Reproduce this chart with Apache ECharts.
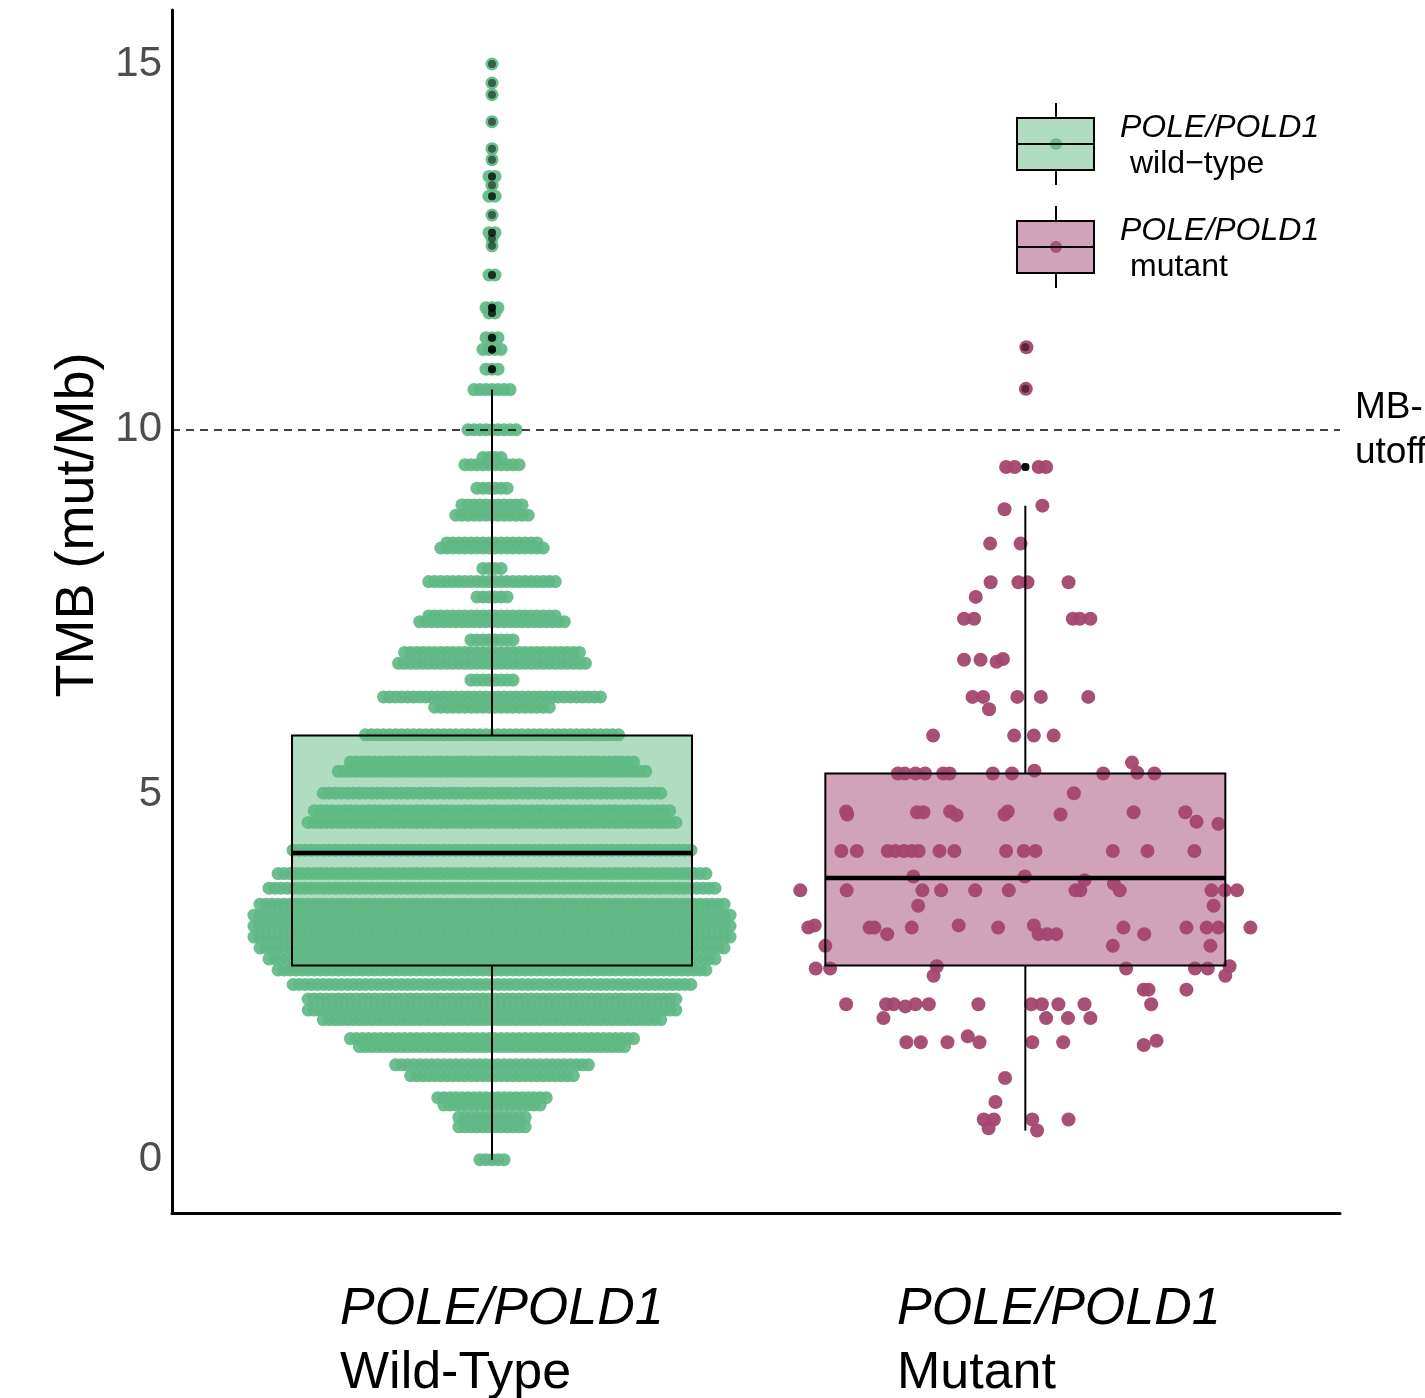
<!DOCTYPE html>
<html>
<head>
<meta charset="UTF-8">
<title>TMB by POLE/POLD1 status</title>
<style>
  html, body { margin: 0; padding: 0; background: #fff; }
  #chart { width: 1425px; height: 1398px; }
</style>
</head>
<body>
<div id="chart"></div>
<script src="https://cdn.jsdelivr.net/npm/echarts@6/dist/echarts.min.js"></script>
<script>
// --- data ---
const categories = ['Wild-Type', 'Mutant'];
const yTicks = [0, 5, 10, 15];
const cutoff = 10;

// [lower whisker, Q1, median, Q3, upper whisker]
const wtBox = [0, 2.66, 4.2, 5.81, 10.55];
const mutBox = [0.40, 2.66, 3.86, 5.29, 8.96];

// wild-type beeswarm: [TMB value, number of samples in that row]
const wtRows = [
  [15.01, 1], [14.75, 1], [14.59, 1], [14.22, 1], [13.85, 1], [13.7, 1],
  [13.47, 2], [13.35, 1], [13.2, 2], [12.94, 1], [12.7, 2], [12.62, 1],
  [12.52, 1], [12.12, 2], [11.67, 3], [11.6, 2], [11.26, 3], [11.1, 4],
  [10.83, 3], [10.55, 7], [10.0, 9], [9.62, 4], [9.52, 10], [9.2, 6],
  [8.97, 11], [8.83, 13], [8.45, 16], [8.38, 18], [8.1, 4], [7.92, 22],
  [7.71, 6], [7.45, 22], [7.37, 25], [7.12, 8], [6.95, 30], [6.8, 32],
  [6.57, 8], [6.34, 37], [6.2, 20], [5.82, 43], [5.45, 48], [5.32, 52],
  [5.02, 57], [4.78, 60], [4.62, 62], [4.24, 67], [3.92, 72], [3.72, 75],
  [3.5, 78], [3.35, 80], [3.2, 80], [3.05, 80], [2.9, 78], [2.75, 75],
  [2.6, 72], [2.4, 67], [2.2, 62], [2.05, 62], [1.92, 57], [1.66, 48],
  [1.55, 45], [1.3, 33], [1.15, 28], [0.85, 19], [0.75, 17], [0.58, 12],
  [0.45, 12], [0.0, 5]
];

// mutant jittered points: [horizontal jitter, TMB value]
const mutPoints = [
  [0.002, 11.13], [0.001, 10.56],
  [-0.036, 9.49], [-0.020, 9.49], [0.025, 9.49], [0.039, 9.49],
  [-0.039, 8.91], [0.032, 8.96], [-0.066, 8.44], [-0.009, 8.44],
  [-0.065, 7.91], [-0.013, 7.91], [0.004, 7.91], [0.081, 7.91], [-0.093, 7.71],
  [-0.115, 7.41], [-0.096, 7.41], [0.089, 7.41], [0.102, 7.41], [0.122, 7.41],
  [-0.115, 6.85], [-0.084, 6.85], [-0.054, 6.82], [-0.042, 6.86],
  [-0.099, 6.34], [-0.079, 6.34], [-0.015, 6.34], [0.029, 6.34], [0.118, 6.34], [-0.068, 6.17],
  [-0.173, 5.81], [-0.021, 5.81], [0.016, 5.81], [0.053, 5.81],
  [-0.239, 5.29], [-0.226, 5.29], [-0.206, 5.29], [-0.188, 5.29], [-0.154, 5.29], [-0.142, 5.29],
  [-0.061, 5.29], [-0.025, 5.29], [0.017, 5.33], [0.146, 5.29], [0.200, 5.44], [0.210, 5.30], [0.242, 5.29],
  [0.091, 5.02],
  [-0.336, 4.77], [-0.334, 4.73], [-0.203, 4.76], [-0.191, 4.76], [-0.141, 4.77], [-0.129, 4.72],
  [-0.039, 4.73], [-0.033, 4.77], [0.066, 4.73], [0.203, 4.76], [0.300, 4.76], [0.321, 4.63], [0.362, 4.60],
  [-0.345, 4.23], [-0.316, 4.23], [-0.258, 4.23], [-0.244, 4.23], [-0.228, 4.23], [-0.213, 4.23],
  [-0.200, 4.23], [-0.161, 4.23], [-0.133, 4.23], [-0.036, 4.23], [-0.003, 4.23], [0.019, 4.23],
  [0.164, 4.23], [0.229, 4.23], [0.317, 4.23],
  [-0.210, 3.88], [-0.001, 3.88], [0.111, 3.83],
  [-0.422, 3.69], [-0.335, 3.69], [-0.193, 3.69], [-0.158, 3.69], [-0.094, 3.69], [-0.031, 3.69],
  [0.094, 3.69], [0.103, 3.69], [0.166, 3.78], [0.177, 3.69], [0.349, 3.69], [0.374, 3.69], [0.397, 3.69],
  [-0.201, 3.48], [0.353, 3.48],
  [-0.407, 3.18], [-0.395, 3.21], [-0.292, 3.18], [-0.283, 3.18], [-0.259, 3.09], [-0.213, 3.18],
  [-0.125, 3.21], [-0.051, 3.18], [0.016, 3.21], [0.025, 3.09], [0.041, 3.09], [0.058, 3.09],
  [0.184, 3.18], [0.223, 3.09], [0.302, 3.18], [0.340, 3.18], [0.362, 3.18], [0.422, 3.18],
  [-0.375, 2.93], [0.164, 2.93], [0.347, 2.93],
  [-0.393, 2.62], [-0.366, 2.62], [-0.166, 2.65], [-0.172, 2.52], [0.189, 2.62], [0.318, 2.62],
  [0.342, 2.62], [0.383, 2.65], [0.375, 2.52],
  [0.222, 2.33], [0.231, 2.33], [0.302, 2.33],
  [-0.336, 2.13], [-0.261, 2.13], [-0.247, 2.13], [-0.225, 2.10], [-0.206, 2.13], [-0.181, 2.13],
  [-0.088, 2.13], [0.011, 2.13], [0.031, 2.13], [0.062, 2.13], [0.111, 2.13], [0.236, 2.13],
  [-0.266, 1.94], [0.039, 1.94], [0.080, 1.94], [0.122, 1.94],
  [-0.223, 1.61], [-0.196, 1.61], [-0.146, 1.61], [-0.108, 1.69], [-0.086, 1.61], [0.013, 1.61],
  [0.071, 1.61], [0.222, 1.57], [0.246, 1.63],
  [-0.038, 1.12], [-0.056, 0.79],
  [-0.078, 0.55], [-0.059, 0.55], [0.013, 0.55], [0.081, 0.55], [-0.069, 0.43], [0.022, 0.40]
];

// --- build series data ---
const green = '#5fb884', greenFill = '#b0dcc2';
const plum = '#a3466f', plumFill = '#d1a3b8';
const step = 0.0113;   // horizontal packing of swarm rows (axis units)
const boxWidth = 0.75;

let wtData = [];
wtRows.forEach(([v, n]) => {
  for (let i = 0; i < n; i++) wtData.push([1 + (i - (n - 1) / 2) * step, v]);
});
let mutData = mutPoints.map(p => [2 + p[0], p[1]]);

// boxplot outliers (beyond upper whisker), drawn at the category centre
let outliers = [];
wtRows.forEach(([v, n]) => { if (v > wtBox[4]) for (let i = 0; i < n; i++) outliers.push([1, v]); });
mutPoints.forEach(p => { if (p[1] > mutBox[4]) outliers.push([2, p[1]]); });

const boxData = [[1].concat(wtBox), [2].concat(mutBox)];

function boxRenderer(fill) {
  return function (params, api) {
    let x = api.value(0);
    let half = api.size([boxWidth, 0])[0] / 2;
    let lo = api.coord([x, api.value(1)]);
    let q1 = api.coord([x, api.value(2)]);
    let md = api.coord([x, api.value(3)]);
    let q3 = api.coord([x, api.value(4)]);
    let hi = api.coord([x, api.value(5)]);
    if (fill) {
      return {
        type: 'rect',
        shape: { x: q3[0] - half, y: q3[1], width: half * 2, height: q1[1] - q3[1] },
        style: { fill: params.dataIndex === 0 ? greenFill : plumFill }
      };
    }
    let st = { stroke: '#000', lineWidth: 2, fill: null };
    return {
      type: 'group',
      children: [
        { type: 'rect', shape: { x: q3[0] - half, y: q3[1], width: half * 2, height: q1[1] - q3[1] }, style: st },
        { type: 'line', shape: { x1: hi[0], y1: hi[1], x2: q3[0], y2: q3[1] }, style: st },
        { type: 'line', shape: { x1: q1[0], y1: q1[1], x2: lo[0], y2: lo[1] }, style: st },
        { type: 'line', shape: { x1: md[0] - half, y1: md[1], x2: md[0] + half, y2: md[1] },
          style: { stroke: '#000', lineWidth: 4.5 } }
      ]
    };
  };
}

const font = '"Liberation Sans", Arial, Helvetica, sans-serif';

function legendKey(top, fillColor, dotColor, label) {
  return [
    { type: 'line', shape: { x1: 1056, y1: top - 15, x2: 1056, y2: top }, style: { stroke: '#000', lineWidth: 2 } },
    { type: 'line', shape: { x1: 1056, y1: top + 52, x2: 1056, y2: top + 67 }, style: { stroke: '#000', lineWidth: 2 } },
    { type: 'rect', shape: { x: 1017, y: top, width: 77, height: 52 }, style: { fill: fillColor, stroke: '#000', lineWidth: 2 } },
    { type: 'circle', shape: { cx: 1056, cy: top + 26, r: 6 }, style: { fill: dotColor, opacity: 0.85 } },
    { type: 'line', shape: { x1: 1017, y1: top + 26, x2: 1094, y2: top + 26 }, style: { stroke: '#000', lineWidth: 2 } },
    { type: 'text', x: 1120, y: top + 10, style: { text: 'POLE/POLD1', fontFamily: font, fontStyle: 'italic', fontSize: 32, fill: '#000', verticalAlign: 'middle' } },
    { type: 'text', x: 1130, y: top + 46, style: { text: label, fontFamily: font, fontSize: 32, fill: '#000', verticalAlign: 'middle' } }
  ];
}

let chart = echarts.init(document.getElementById('chart'));

let option = {
  backgroundColor: '#fff',
  animation: false,
  grid: { left: 172, right: 85, top: 10, bottom: 185 },
  xAxis: {
    type: 'value', min: 0.4, max: 2.59,
    axisLine: { show: true, onZero: false, lineStyle: { color: '#000', width: 3 } },
    axisTick: { show: false }, axisLabel: { show: false }, splitLine: { show: false }
  },
  yAxis: {
    type: 'value', min: -0.73, max: 15.75,
    axisLine: { show: true, lineStyle: { color: '#000', width: 3 } },
    axisTick: { show: false },
    axisLabel: { customValues: yTicks, fontFamily: font, fontSize: 42, color: '#4d4d4d', margin: 10 },
    splitLine: { show: false }
  },
  series: [
    { type: 'custom', z: 1, renderItem: boxRenderer(true), data: boxData, silent: true },
    {
      type: 'scatter', name: categories[0], z: 2, data: wtData, symbolSize: 13,
      itemStyle: { color: green, opacity: 0.92 }, silent: true
    },
    {
      type: 'scatter', name: categories[1], z: 2, data: mutData, symbolSize: 14,
      itemStyle: { color: plum, opacity: 0.95 }, silent: true
    },
    {
      type: 'custom', z: 3, renderItem: boxRenderer(false), data: boxData, silent: true,
      markLine: {
        silent: true, symbol: 'none', label: { show: false },
        lineStyle: { color: '#000', type: [8, 6], width: 1.6 },
        data: [{ yAxis: cutoff }]
      }
    },
    {
      type: 'scatter', z: 4, data: outliers, symbolSize: 8,
      itemStyle: { color: '#000', opacity: 0.5 }, silent: true
    }
  ],
  graphic: [].concat(
    legendKey(118, greenFill, green, 'wild\u2212type'),
    legendKey(221, plumFill, plum, 'mutant'),
    [
      { type: 'text', x: 78, y: 525, rotation: Math.PI / 2,
        style: { text: 'TMB (mut/Mb)', fontFamily: font, fontSize: 54, fill: '#000', align: 'center', verticalAlign: 'middle' } },
      { type: 'text', x: 1355, y: 408, style: { text: 'MB-', fontFamily: font, fontSize: 37, fill: '#000', verticalAlign: 'middle' } },
      { type: 'text', x: 1355, y: 453, style: { text: 'utoff', fontFamily: font, fontSize: 37, fill: '#000', verticalAlign: 'middle' } },
      { type: 'text', x: 340, y: 1310, style: { text: 'POLE/POLD1', fontFamily: font, fontStyle: 'italic', fontSize: 52, fill: '#000', verticalAlign: 'middle' } },
      { type: 'text', x: 340, y: 1374, style: { text: categories[0], fontFamily: font, fontSize: 52, fill: '#000', verticalAlign: 'middle' } },
      { type: 'text', x: 897, y: 1310, style: { text: 'POLE/POLD1', fontFamily: font, fontStyle: 'italic', fontSize: 52, fill: '#000', verticalAlign: 'middle' } },
      { type: 'text', x: 897, y: 1374, style: { text: categories[1], fontFamily: font, fontSize: 52, fill: '#000', verticalAlign: 'middle' } }
    ]
  )
};

chart.setOption(option);
</script>
</body>
</html>
